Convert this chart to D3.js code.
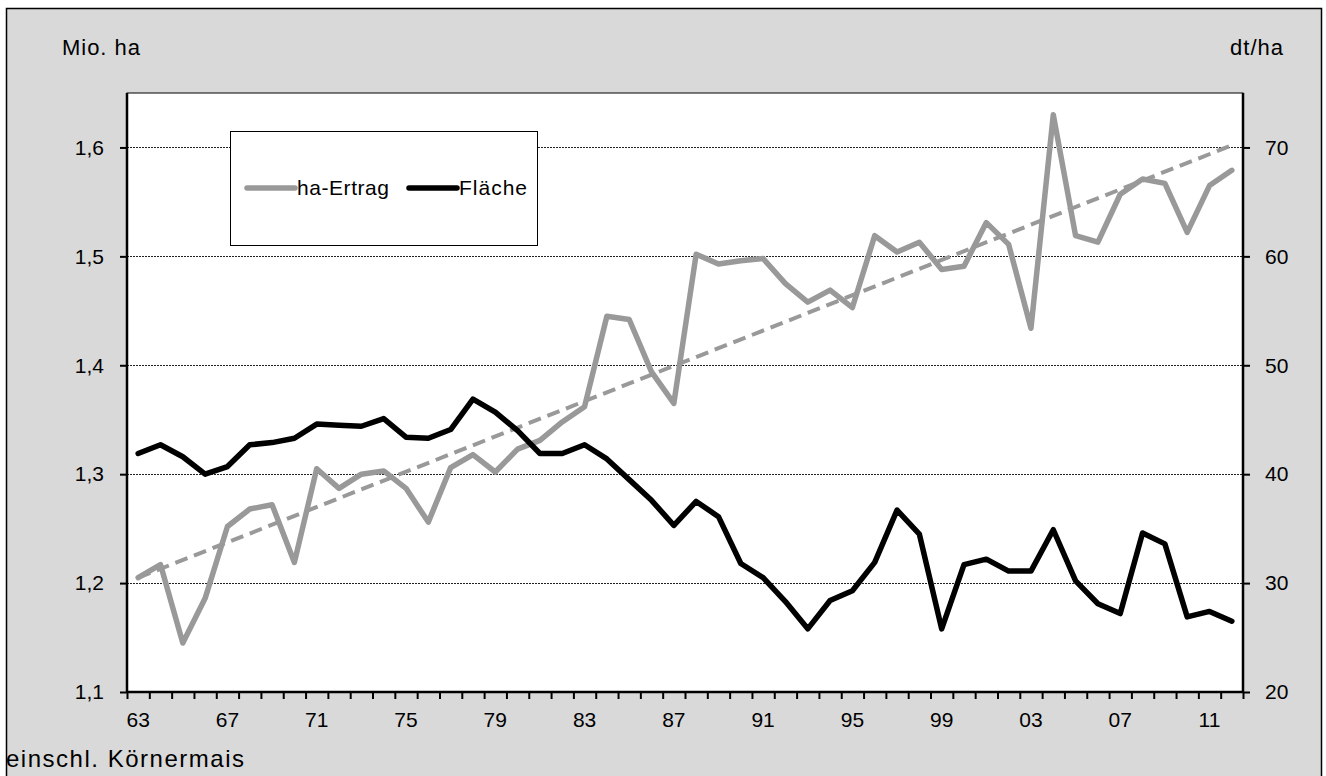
<!DOCTYPE html>
<html lang="de">
<head>
  <meta charset="utf-8" />
  <title>Körnermais: Fläche und ha-Ertrag</title>
  <script src="https://d3js.org/d3.v7.min.js"></script>
  <style>
    body { margin: 0; background: #fff; }
    text { font-family: "Liberation Sans", Arial, sans-serif; fill: #000; }
  </style>
</head>
<body>
  <div id="chart"></div>
  <script>
    // years 1963 .. 2012
    var years = d3.range(1963, 2013);

    // Fläche, Mio. ha (left axis)
    var flaeche = [1.319, 1.327, 1.316, 1.300, 1.307, 1.327, 1.329, 1.333, 1.346, 1.345,
                   1.344, 1.351, 1.334, 1.333, 1.341, 1.369, 1.357, 1.340, 1.319, 1.319,
                   1.327, 1.314, 1.295, 1.276, 1.253, 1.275, 1.261, 1.218, 1.205, 1.183,
                   1.158, 1.184, 1.193, 1.219, 1.267, 1.245, 1.158, 1.217, 1.222, 1.211,
                   1.211, 1.249, 1.202, 1.181, 1.172, 1.246, 1.236, 1.169, 1.174, 1.165];

    // ha-Ertrag, dt/ha (right axis)
    var ertrag = [30.5, 31.7, 24.5, 28.6, 35.2, 36.8, 37.2, 31.9, 40.5, 38.7,
                  40.0, 40.3, 38.7, 35.6, 40.6, 41.8, 40.2, 42.3, 43.1, 44.8,
                  46.2, 54.5, 54.2, 49.4, 46.5, 60.2, 59.3, 59.6, 59.8, 57.5,
                  55.8, 56.9, 55.3, 61.9, 60.4, 61.3, 58.8, 59.1, 63.1, 61.1,
                  53.4, 73.0, 61.9, 61.3, 65.7, 67.1, 66.7, 62.2, 66.5, 67.9];

    // linear trend of ha-Ertrag, start and end
    var trendYears = [1963, 2012];
    var trendValues = [30.5, 70.2];

    var leftTicks = [1.1, 1.2, 1.3, 1.4, 1.5, 1.6];
    var rightTicks = [20, 30, 40, 50, 60, 70];
    var labelYears = d3.range(1963, 2013, 4);

    var width = 1326, height = 776;
    var plot = {left: 127, right: 1243, top: 93, bottom: 692};

    var svg = d3.select("#chart")
                .append("svg")
                .attr("width", width)
                .attr("height", height);

    // grey background with frame
    svg.append("rect")
       .attr("x", 6.5).attr("y", 8.5)
       .attr("width", 1315).attr("height", 800)
       .attr("fill", "#d9d9d9")
       .attr("stroke", "#000")
       .attr("stroke-width", 1.5);

    var x = d3.scaleLinear()
              .domain([1962.5, 2012.5])
              .range([plot.left, plot.right]);
    var yL = d3.scaleLinear()
               .domain([1.1, 1.65])
               .range([plot.bottom, plot.top]);
    var yR = d3.scaleLinear()
               .domain([20, 75])
               .range([plot.bottom, plot.top]);

    var de = d3.formatLocale({decimal: ",", thousands: ".", grouping: [3], currency: ["", " €"]});
    var fmtL = de.format(".1f");

    // plot area
    svg.append("rect")
       .attr("x", plot.left).attr("y", plot.top)
       .attr("width", plot.right - plot.left)
       .attr("height", plot.bottom - plot.top)
       .attr("fill", "#fff")
       .attr("stroke", "#000")
       .attr("stroke-width", 1);

    // dotted gridlines
    svg.selectAll(".grid")
       .data(leftTicks.slice(1))
       .enter()
       .append("line")
       .attr("x1", plot.left).attr("x2", plot.right)
       .attr("y1", function(d) { return Math.round(yL(d)) + 0.5; })
       .attr("y2", function(d) { return Math.round(yL(d)) + 0.5; })
       .attr("stroke", "#222")
       .attr("stroke-width", 1)
       .attr("stroke-dasharray", "2,1");

    // left axis
    var axL = svg.append("g")
       .attr("transform", "translate(" + plot.left + ",0)")
       .call(d3.axisLeft(yL).tickValues(leftTicks).tickSize(7).tickPadding(16).tickFormat(fmtL));
    // right axis
    var axR = svg.append("g")
       .attr("transform", "translate(" + plot.right + ",0)")
       .call(d3.axisRight(yR).tickValues(rightTicks).tickSize(7).tickPadding(15));
    // bottom axis: ticks between years
    var axB = svg.append("g")
       .attr("transform", "translate(0," + plot.bottom + ")")
       .call(d3.axisBottom(x).tickValues(d3.range(1962.5, 2013, 1)).tickSize(7).tickFormat(""));

    [axL, axR, axB].forEach(function(g) {
      g.select(".domain").attr("stroke", "#000").attr("stroke-width", 2.5);
      g.selectAll(".tick line").attr("stroke", "#000").attr("stroke-width", 2);
      g.selectAll(".tick text").style("font-size", "21px").attr("fill", "#000");
    });
    axL.select(".domain").attr("d", "M0," + plot.bottom + "V" + plot.top);
    axR.select(".domain").attr("d", "M0," + plot.bottom + "V" + plot.top);
    axB.select(".domain").attr("d", "M" + plot.left + ",0H" + plot.right);

    // year labels
    svg.selectAll(".yearlab")
       .data(labelYears)
       .enter()
       .append("text")
       .attr("x", function(d) { return x(d); })
       .attr("y", 727)
       .attr("text-anchor", "middle")
       .style("font-size", "21px")
       .text(function(d) { return String(d).slice(2); });

    // trend line
    var trendLine = d3.line()
       .x(function(d, i) { return x(trendYears[i]); })
       .y(function(d) { return yR(d); });
    svg.append("path")
       .attr("d", trendLine(trendValues))
       .attr("fill", "none")
       .attr("stroke", "#999")
       .attr("stroke-width", 4)
       .attr("stroke-dasharray", "13,7");

    var lineL = d3.line()
       .x(function(d, i) { return x(years[i]); })
       .y(function(d) { return yL(d); });
    var lineR = d3.line()
       .x(function(d, i) { return x(years[i]); })
       .y(function(d) { return yR(d); });

    svg.append("path")
       .attr("d", lineR(ertrag))
       .attr("fill", "none")
       .attr("stroke", "#999")
       .attr("stroke-width", 5.5)
       .attr("stroke-linejoin", "round")
       .attr("stroke-linecap", "round");

    svg.append("path")
       .attr("d", lineL(flaeche))
       .attr("fill", "none")
       .attr("stroke", "#000")
       .attr("stroke-width", 5.5)
       .attr("stroke-linejoin", "round")
       .attr("stroke-linecap", "round");

    // legend
    var leg = svg.append("g");
    leg.append("rect")
       .attr("x", 230.5).attr("y", 131.5)
       .attr("width", 307).attr("height", 114)
       .attr("fill", "#fff")
       .attr("stroke", "#000")
       .attr("stroke-width", 1);
    var legItems = [
      {name: "ha-Ertrag", color: "#999", x0: 247, w: 92},
      {name: "Fläche", color: "#000", x0: 409, w: 68}
    ];
    legItems.forEach(function(d) {
      leg.append("line")
         .attr("x1", d.x0).attr("x2", d.x0 + 48)
         .attr("y1", 188).attr("y2", 188)
         .attr("stroke", d.color)
         .attr("stroke-width", 5.5)
         .attr("stroke-linecap", "round");
      leg.append("text")
         .attr("x", d.x0 + 50)
         .attr("y", 195)
         .attr("textLength", d.w)
         .attr("lengthAdjust", "spacing")
         .style("font-size", "21px")
         .text(d.name);
    });

    // axis titles and note
    svg.append("text").attr("x", 62).attr("y", 55)
       .attr("textLength", 78).attr("lengthAdjust", "spacing")
       .style("font-size", "22px").text("Mio. ha");
    svg.append("text").attr("x", 1230).attr("y", 55)
       .attr("textLength", 53).attr("lengthAdjust", "spacing")
       .style("font-size", "22px").text("dt/ha");
    svg.append("text").attr("x", 6).attr("y", 767)
       .attr("textLength", 238).attr("lengthAdjust", "spacing")
       .style("font-size", "24px").text("einschl. Körnermais");
  </script>
</body>
</html>
